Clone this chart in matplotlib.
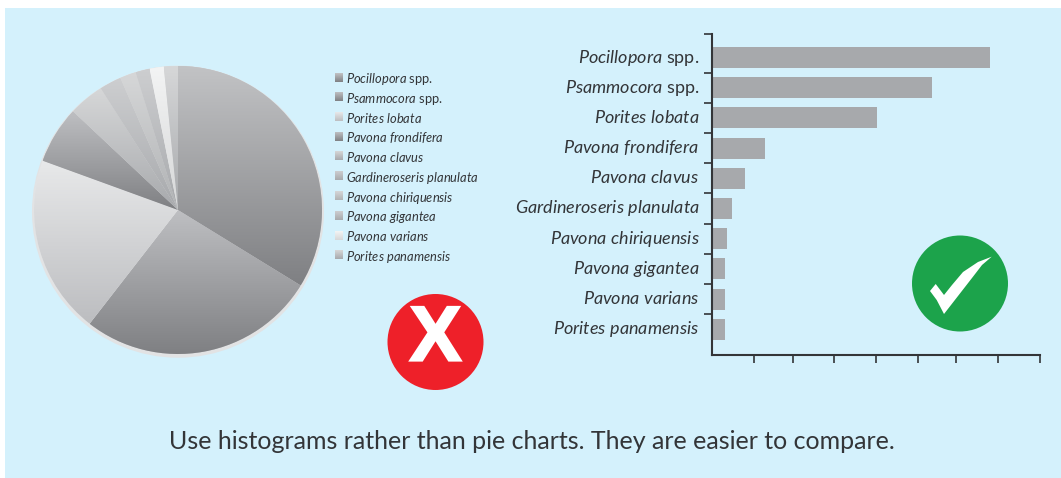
import matplotlib
matplotlib.use("Agg")
import matplotlib.pyplot as plt
import matplotlib.patheffects as pe
import numpy as np
from matplotlib.colors import to_rgb
from matplotlib.patches import Circle, Polygon, Rectangle
from matplotlib.transforms import ScaledTranslation

W, H = 1061, 478
FONT = "Lato"
TXT = "#333538"
plt.rcParams["font.family"] = FONT
plt.rcParams["mathtext.fontset"] = "custom"
plt.rcParams["mathtext.rm"] = FONT
plt.rcParams["mathtext.it"] = FONT + ":italic"
plt.rcParams["mathtext.bf"] = FONT + ":bold"

italic_names = ["Pocillopora", "Psammocora", "Porites lobata", "Pavona frondifera", "Pavona clavus",
                "Gardineroseris planulata", "Pavona chiriquensis", "Pavona gigantea", "Pavona varians",
                "Porites panamensis"]
suffixes = [" spp.", " spp.", "", "", "", "", "", "", "", ""]
values = [278, 220, 165, 53, 33, 20, 15, 13, 13, 13]
top_colors = ["#C2C3C5", "#BEBFC2", "#E8E9EA", "#BEBFC2", "#D6D7D8", "#CDCED0", "#D6D7D8", "#CDCED0", "#F3F4F4", "#D6D7D8"]
bottom_colors = ["#7F8083", "#7F8083", "#BCBDC0", "#7F8083", "#A7A9AC", "#A7A9AC", "#B0B2B4", "#A7A9AC", "#D6D7D8", "#A7A9AC"]
x_ticks = [42, 81, 122, 164, 206, 244, 286, 328]
caption = "Use histograms rather than pie charts. They are easier to compare."


def label(name, suffix):
    return "$\\mathit{" + name.replace(" ", "\\ ") + "}$" + suffix


def px_rect(l, t, r, b):
    return [l / W, 1 - b / H, (r - l) / W, (b - t) / H]


def gradient(ax, top, bottom, extent, clip=None, zorder=2):
    t, b = np.array(to_rgb(top)), np.array(to_rgb(bottom))
    f = np.linspace(0, 1, 128)[:, None, None]
    im = ax.imshow((t * (1 - f) + b * f), extent=extent, aspect="auto", origin="upper",
                   zorder=zorder, interpolation="bilinear")
    if clip is not None:
        im.set_clip_path(clip)
    return im


fig = plt.figure(figsize=(W / 100, H / 100), dpi=100, facecolor="white")

# Background / overlay in pixel coordinates
bg = fig.add_axes([0, 0, 1, 1])
bg.axis("off")
bg.add_patch(Rectangle((5, 8), W - 5, H - 8, facecolor="#D4F1FC", edgecolor="none", zorder=0))

# Legend
for i, (n, s) in enumerate(zip(italic_names, suffixes)):
    yc = 78 + i * 19.75
    gradient(bg, top_colors[i], bottom_colors[i], (335, 343, yc + 3.5, yc - 5), zorder=2)
    bg.text(346.5, yc + 5, label(n, s), fontsize=9.25, color=TXT, va="baseline", ha="left")

# Red icon
bg.add_patch(Circle((435.5, 342), 48, facecolor="#EE2029", edgecolor="none", zorder=2))
bg.text(435.5, 360.5, "X", fontsize=56, fontweight="bold", family="Liberation Sans", color="white",
        ha="center", va="baseline", zorder=3,
        path_effects=[pe.withStroke(linewidth=1.6, foreground="white", joinstyle="miter")])

# Green icon
bg.add_patch(Circle((960, 283.5), 48, facecolor="#1CA34B", edgecolor="none", zorder=2))
bg.add_patch(Polygon([(930, 291), (935.7, 284), (944, 295), (952, 285), (963, 272), (978, 262), (991.7, 256.7),
                      (982, 265), (973, 276.7), (958, 296), (944, 314), (936.7, 300)],
                     closed=True, facecolor="white", edgecolor="none", zorder=3))

bg.text(532, 449, caption, fontsize=18, color=TXT, ha="center", va="baseline")
bg.set_xlim(0, W)
bg.set_ylim(H, 0)

# Pie
R_PX = 144
pie_ax = fig.add_axes(px_rect(178 - 150, 210 - 150, 178 + 150, 210 + 150))
pie_ax.patch.set_visible(False)
pie_ax.add_patch(Circle((0, -0.012), 1.014, facecolor="#E2E3E4", edgecolor="none", zorder=0))
wedges, _ = pie_ax.pie(values, startangle=90, counterclock=False, radius=1, colors=top_colors)
for w, c0, c1 in zip(wedges, top_colors, bottom_colors):
    w.set_edgecolor("none")
    ext = w.get_patch_transform().transform_path(w.get_path()).get_extents()
    gradient(pie_ax, c0, c1, (ext.x0, ext.x1, ext.y0, ext.y1), clip=w, zorder=3)
pie_ax.set_xlim(-150 / R_PX, 150 / R_PX)
pie_ax.set_ylim(-150 / R_PX, 150 / R_PX)
pie_ax.axis("off")

# Bars
PITCH, Y0 = 30.2, 57.5
ax = fig.add_axes(px_rect(712, 34, 1040, 355))
ax.patch.set_visible(False)
y = np.arange(len(values))
ax.barh(y, values, height=0.7, color="#A7A9AC")
ax.set_xlim(0, 328)
ax.set_ylim((355 - Y0) / PITCH, (34 - Y0) / PITCH)
ax.set_xticks(x_ticks)
ax.set_xticklabels([])
ax.set_yticks(y)
ax.set_yticklabels([label(n, s) for n, s in zip(italic_names, suffixes)], fontsize=12.95, color=TXT)
ax.set_yticks(list(y[:-1] + 0.5) + [(34 - Y0) / PITCH], minor=True)
ax.tick_params(axis="y", which="major", length=0, pad=9)
ax.tick_params(axis="y", which="minor", length=6, width=1.2, color="#333538")
ax.tick_params(axis="x", which="major", length=6, width=1.2, color="#333538")
shift = ScaledTranslation(0, -5 / 100, fig.dpi_scale_trans)
for t in ax.get_yticklabels():
    t.set_verticalalignment("baseline")
    t.set_transform(t.get_transform() + shift)
for s in ("top", "right"):
    ax.spines[s].set_visible(False)
for s in ("left", "bottom"):
    ax.spines[s].set_linewidth(1.5)
    ax.spines[s].set_color("#333538")

fig.savefig("out.png", dpi=100)
